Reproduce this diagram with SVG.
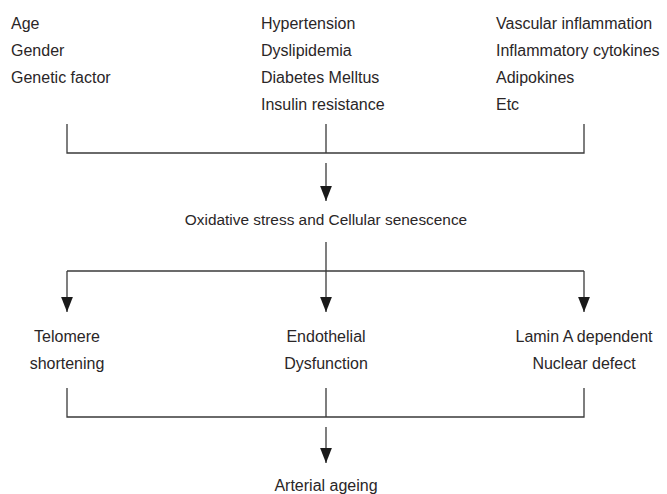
<svg xmlns="http://www.w3.org/2000/svg" width="667" height="494" viewBox="0 0 667 494">
<defs>
<style>
text{font-family:"Liberation Sans",Arial,sans-serif;font-size:16px;fill:#2a2627}
.c{text-anchor:middle}
.ln{stroke:#3a3a3a;stroke-width:1.3;fill:none}
</style>
<marker id="ah" markerUnits="userSpaceOnUse" markerWidth="15" markerHeight="12" refX="14" refY="5.5" orient="auto" viewBox="0 0 14 11">
<path d="M0,0 L14,5.5 L0,11 Z" fill="#1a1a1a"/>
</marker>
</defs>
<rect width="667" height="494" fill="#fff"/>
<g id="n-demographic">
<text x="11" y="29">Age</text>
<text x="11" y="56">Gender</text>
<text x="11" y="83">Genetic factor</text>
</g>
<g id="n-metabolic">
<text x="261" y="29">Hypertension</text>
<text x="261" y="56">Dyslipidemia</text>
<text x="261" y="83">Diabetes Melltus</text>
<text x="261" y="110">Insulin resistance</text>
</g>
<g id="n-inflammation">
<text x="496" y="29">Vascular inflammation</text>
<text x="496" y="56">Inflammatory cytokines</text>
<text x="496" y="83">Adipokines</text>
<text x="496" y="110">Etc</text>
</g>
<g id="n-oxidative">
<text class="c" x="326" y="225" style="font-size:15.4px">Oxidative stress and Cellular senescence</text>
</g>
<g id="n-telomere">
<text class="c" x="67" y="342">Telomere</text>
<text class="c" x="67" y="369">shortening</text>
</g>
<g id="n-endothelial">
<text class="c" x="326" y="342">Endothelial</text>
<text class="c" x="326" y="369">Dysfunction</text>
</g>
<g id="n-lamin">
<text class="c" x="584" y="342">Lamin A dependent</text>
<text class="c" x="584" y="369">Nuclear defect</text>
</g>
<g id="n-arterial">
<text class="c" x="326" y="491">Arterial ageing</text>
</g>
<g id="connectors">
<path class="ln" d="M67,124 V153 H584 V124 M326,124 V153"/>
<path class="ln" d="M326,163 V201" marker-end="url(#ah)"/>
<path class="ln" d="M326,242 V312" marker-end="url(#ah)"/>
<path class="ln" d="M67,271 H584"/>
<path class="ln" d="M67,271 V312" marker-end="url(#ah)"/>
<path class="ln" d="M584,271 V312" marker-end="url(#ah)"/>
<path class="ln" d="M67,388 V417 H584 V388 M326,388 V417"/>
<path class="ln" d="M326,427 V463" marker-end="url(#ah)"/>
</g>
</svg>
